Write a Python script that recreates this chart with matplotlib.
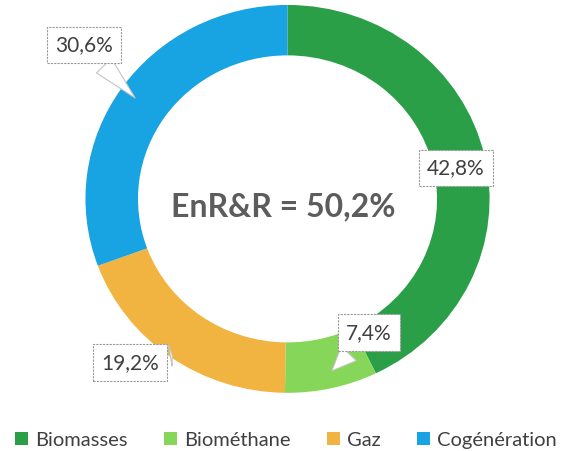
import matplotlib.pyplot as plt
from matplotlib.patches import Patch

categories = ["Biomasses", "Biométhane", "Gaz", "Cogénération"]
values = [42.8, 7.4, 19.2, 30.6]
labels = ["42,8%", "7,4%", "19,2%", "30,6%"]
colors = ["#2b9f48", "#86d65a", "#f1b440", "#18a3e2"]
center_text = "EnR&R = 50,2%"

plt.rcParams["font.family"] = ["Lato", "DejaVu Sans"]

fig = plt.figure(figsize=(5.66, 4.51), dpi=100)
ax = fig.add_axes([0.151, 0.129, 0.714, 0.860])

wedges, _ = ax.pie(values, colors=colors, startangle=90, counterclock=False,
                   radius=1.0, wedgeprops=dict(width=0.26, edgecolor="none"))
# the scan is slightly wider than tall, so let the ring follow the axes box
ax.set_aspect("auto")
ax.set_xlim(-1, 1)
ax.set_ylim(-1, 1)
ax.axis("off")

ax.text(-0.02, -0.04, center_text, ha="center", va="center", fontsize=23,
        fontweight="bold", color="#5c5c5c")

# callout positions (box centre, pointer tip) in pie coordinates
callouts = {
    "42,8%": ((0.834, 0.16), None),
    "7,4%": ((0.403, -0.69), (0.21, -0.897)),
    "19,2%": ((-0.78, -0.845), (-0.557, -0.804)),
    "30,6%": ((-1.007, 0.794), (-0.745, 0.51)),
}
box = dict(boxstyle="square,pad=0.4", fc="white", ec="#9a9a9a", lw=0.8, ls=(0, (2, 1)))
for lab in labels:
    pos, tip = callouts[lab]
    if tip is None:
        ax.text(pos[0], pos[1], lab, ha="center", va="center", fontsize=15,
                color="#404040", bbox=box, clip_on=False)
    else:
        ax.annotate(lab, xy=tip, xytext=pos, ha="center", va="center", fontsize=15,
                    color="#404040", bbox=box, annotation_clip=False,
                    arrowprops=dict(arrowstyle="wedge,tail_width=1.0,shrink_factor=0.5",
                                    fc="white", ec="#c4c4c4", lw=0.8))

handles = [Patch(facecolor=c, edgecolor="none") for c in colors]
fig.legend(handles, categories, loc="lower center", bbox_to_anchor=(0.505, -0.035),
           ncol=4, frameon=False, fontsize=14.5, handlelength=0.65, handleheight=0.65,
           handletextpad=0.35, columnspacing=1.8, labelcolor="#404040")

fig.savefig("out.png", dpi=100)
